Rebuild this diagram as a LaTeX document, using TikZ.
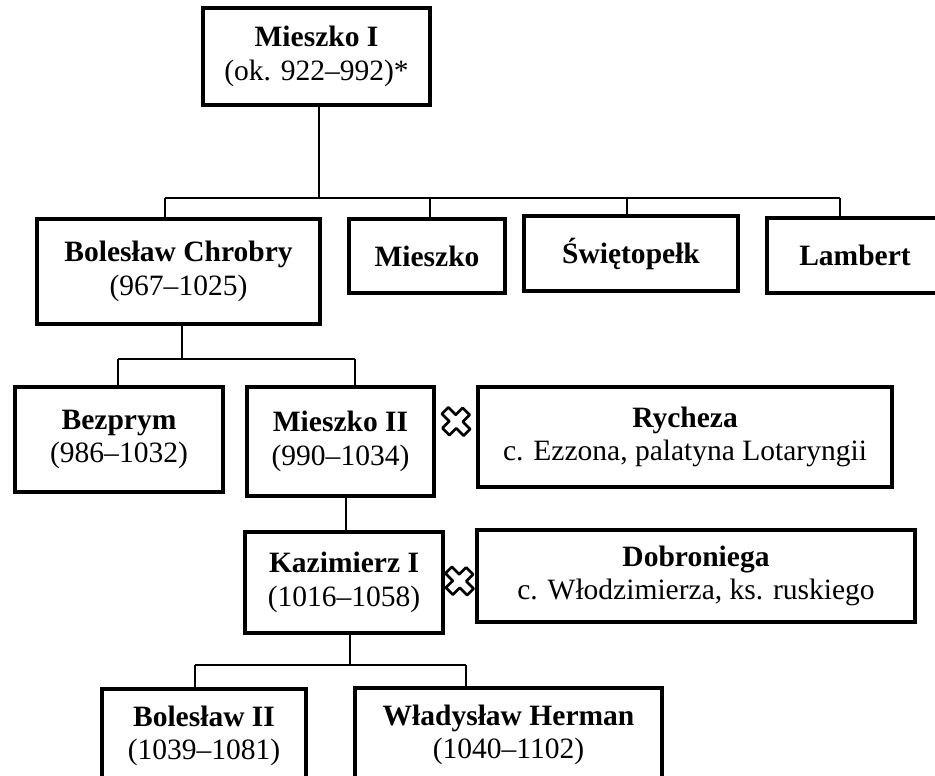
\documentclass[tikz,border=0pt]{standalone}
\usepackage{fontspec}
\setmainfont{Liberation Serif}
\usepackage{tikz}
\tikzstyle{osoba}=[draw=black,line width=2pt,align=center,inner sep=0pt,font=\fontsize{16.8}{19}\selectfont]
\tikzstyle{linia}=[draw=black,line width=0.85pt]
\tikzset{slub/.pic={
  \draw[line width=1.5pt,line join=round,rotate=45,xscale=1.3,yscale=1.4]
    (3.5,3.5) -- (11,3.5) -- (11,-3.5) -- (3.5,-3.5) -- (3.5,-11) -- (-3.5,-11) -- (-3.5,-3.5)
    -- (-11,-3.5) -- (-11,3.5) -- (-3.5,3.5) -- (-3.5,11) -- (3.5,11) -- cycle;
}}

\begin{document}
\begin{tikzpicture}[x=0.02cm,y=-0.02cm]
\useasboundingbox (0,0) rectangle (935,775);
\clip (0,0) rectangle (935,775);
% pokolenie I
\node[osoba,minimum width=4.54cm,minimum height=1.94cm] (m1) at (316.5,56.5) {\textbf{Mieszko I}\\(ok. 922–992)*};
% pokolenie II
\node[osoba,minimum width=5.66cm,minimum height=2.10cm] (bch) at (178.5,271.5) {\textbf{Bolesław Chrobry}\\(967–1025)};
\node[osoba,minimum width=3.12cm,minimum height=1.48cm] (mie) at (427,256) {\textbf{Mieszko}};
\node[osoba,minimum width=4.28cm,minimum height=1.50cm] (swi) at (631,253.5) {\textbf{Świętopełk}};
\node[osoba,minimum width=3.52cm,minimum height=1.50cm] (lam) at (855,255.5) {\textbf{Lambert}};
% pokolenie III
\node[osoba,minimum width=4.16cm,minimum height=2.10cm] (bez) at (119,439.5) {\textbf{Bezprym}\\(986–1032)};
\node[osoba,minimum width=3.74cm,minimum height=2.18cm] (m2) at (340.5,441.5) {\textbf{Mieszko II}\\(990–1034)};
\node[osoba,minimum width=8.28cm,minimum height=2.00cm] (ryc) at (685,437) {\textbf{Rycheza}\\c. Ezzona, palatyna Lotaryngii};
% pokolenie IV
\node[osoba,minimum width=3.96cm,minimum height=2.02cm] (kaz) at (344,582.5) {\textbf{Kazimierz I}\\(1016–1058)};
\node[osoba,minimum width=8.76cm,minimum height=1.84cm] (dob) at (696,576) {\textbf{Dobroniega}\\c. Włodzimierza, ks. ruskiego};
% pokolenie V
\node[osoba,minimum width=4.08cm,minimum height=1.88cm] (b2) at (204,736) {\textbf{Bolesław II}\\(1039–1081)};
\node[osoba,minimum width=6.14cm,minimum height=1.88cm] (wh) at (508.5,735) {\textbf{Władysław Herman}\\(1040–1102)};
% malzenstwa
\pic at (456,421.5) {slub};
\pic at (459.5,581) {slub};
% polaczenia
\coordinate (r1) at (319,198);
\coordinate (d11) at (165,198); \coordinate (d12) at (430,198); \coordinate (d13) at (627,198); \coordinate (d14) at (840,198);
\draw[linia] (r1 |- m1.south) -- (r1);
\draw[linia] (d11) -- (d14);
\draw[linia] (d11) -- (d11 |- bch.north); \draw[linia] (d12) -- (d12 |- mie.north);
\draw[linia] (d13) -- (d13 |- swi.north); \draw[linia] (d14) -- (d14 |- lam.north);
\coordinate (r2) at (182,359);
\coordinate (d21) at (118,359); \coordinate (d22) at (355,359);
\draw[linia] (r2 |- bch.south) -- (r2);
\draw[linia] (d21) -- (d22);
\draw[linia] (d21) -- (d21 |- bez.north); \draw[linia] (d22) -- (d22 |- m2.north);
\coordinate (r3) at (346,514);
\draw[linia] (r3 |- m2.south) -- (r3 |- kaz.north);
\coordinate (r4) at (350,665);
\coordinate (d41) at (195,665); \coordinate (d42) at (466,665);
\draw[linia] (r4 |- kaz.south) -- (r4);
\draw[linia] (d41) -- (d42);
\draw[linia] (d41) -- (d41 |- b2.north); \draw[linia] (d42) -- (d42 |- wh.north);
\end{tikzpicture}
\end{document}
